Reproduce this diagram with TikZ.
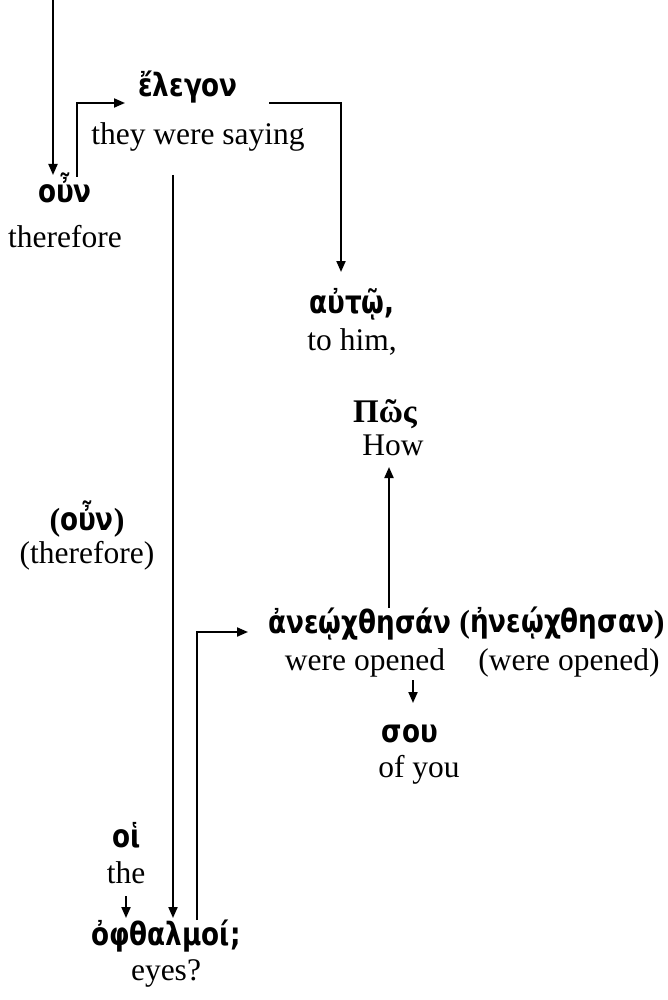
\documentclass[tikz,border=0pt]{standalone}
\usepackage{fontspec}
\setmainfont{Liberation Serif}
\newfontfamily\greekfont{DejaVu Sans}[FakeStretch=0.82]
\usetikzlibrary{calc,arrows.meta}

\newcommand{\gr}[1]{{\greekfont\bfseries #1}}

\tikzset{
  word/.style={anchor=base, inner sep=0pt, font=\fontsize{16}{18}\selectfont},
  gloss/.style={anchor=base, inner sep=0pt, font=\fontsize{15.75}{18}\selectfont},
}

\begin{document}
\begin{tikzpicture}[x=0.5pt, y=-0.5pt, line width=1pt,
    >={Triangle[length=5.5pt,width=4.5pt]}]
  \useasboundingbox (0,0) rectangle (668,1000);

  \coordinate (start) at (53,0);

  % words with their glosses
  \node[word]  (oun)      at (65,203)  {\gr{οὖν}};
  \node[gloss] (ounGl)    at (65,248)  {therefore};
  \node[word]  (elegon)   at (188,97)  {\gr{ἔλεγον}};
  \node[gloss] (elegonGl) at (198,145) {they were saying};
  \node[word]  (auto)     at (352,313) {\gr{αὐτῷ,}};
  \node[gloss] (autoGl)   at (352,350) {to him,};
  \node[word]  (pos)      at (385,422) {\fontsize{16.5}{18}\selectfont\bfseries Πῶς};
  \node[gloss] (posGl)    at (393,455) {How};
  \node[word]  (ounP)     at (87,530)  {\textbf{(}\gr{οὖν}\textbf{)}};
  \node[gloss] (ounPGl)   at (87,563)  {(therefore)};
  \node[word]  (aneo)     at (360,633) {\gr{ἀνεῴχθησάν}};
  \node[gloss] (aneoGl)   at (365,670) {were opened};
  \node[word]  (eneo)     at (562,632) {\textbf{(}\gr{ἠνεῴχθησαν}\textbf{)}};
  \node[gloss] (eneoGl)   at (569,670) {(were opened)};
  \node[word]  (sou)      at (410,742) {\gr{σου}};
  \node[gloss] (souGl)    at (419,777) {of you};
  \node[word]  (hoi)      at (127,847) {\gr{οἱ}};
  \node[gloss] (hoiGl)    at (126,883) {the};
  \node[word]  (ophth)    at (166,945) {\gr{ὀφθαλμοί;}};
  \node[gloss] (ophthGl)  at (166,980) {eyes?};

  % connectors
  \draw[->] (start) -- ($(oun.base)+(-12,-28)$);
  \draw[->] ($(oun.base)+(12,-26)$) |- ($(elegon.base)+(-63,6)$);
  \draw[->] ($(elegon.base)+(81,6)$) -| ($(auto.base)+(-11,-41)$);
  \draw[->] ($(elegonGl.base)+(-25,30)$) -- ($(ophth.base)+(7,-27)$);
  \draw[->] ($(ophth.base)+(31,-25)$) |- ($(aneo.base)+(-112,-1)$);
  \draw[->] ($(aneo.base)+(29,-25)$) -- ($(posGl.base)+(-4,12)$);
  \draw[->] ($(aneoGl.base)+(48,10)$) -- ($(sou.base)+(3,-39)$);
  \draw[->] ($(hoiGl.base)+(0,13)$) -- ($(ophth.base)+(-40,-27)$);
\end{tikzpicture}
\end{document}
